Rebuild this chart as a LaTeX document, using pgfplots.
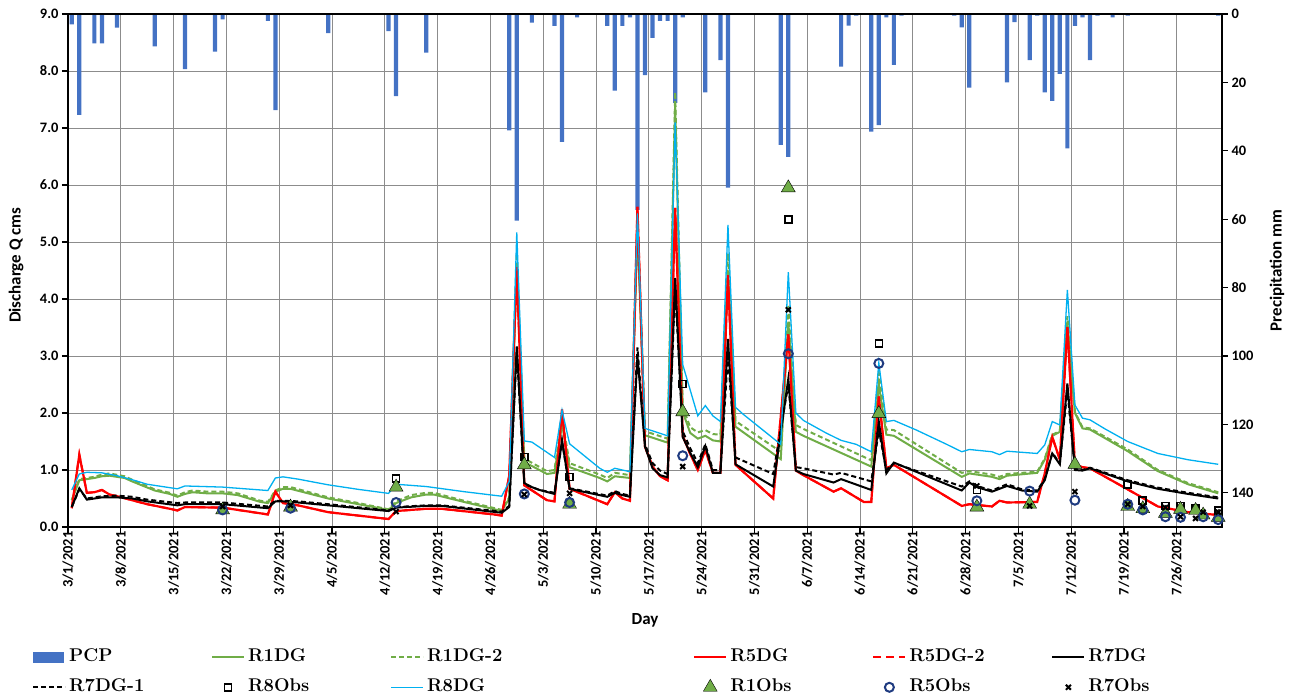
\documentclass[border=0pt]{standalone}
\usepackage{pgfplots}
\usepackage{pgfplotstable}
\pgfplotsset{compat=1.18}
\usepackage{fontspec}
\newfontfamily\carlito{Carlito}
\definecolor{pcp}{HTML}{4472C4}
\definecolor{grn}{HTML}{70AD47}
\definecolor{rd}{HTML}{FF0000}
\definecolor{cyn}{HTML}{00B0F0}
\definecolor{navy}{HTML}{1F3B80}

\pgfplotstableread{
d mm
0 3
1 29.5
3 8.6
4 8.6
6 4.0
11 9.5
15 16.1
19 11.0
20 1.6
26 2.0
27 28.1
34 5.6
42 5.0
43 24.0
47 11.3
58 34.0
59 60.4
61 2.5
64 3.5
65 37.4
67 1.0
71 3.5
72 22.4
73 3.5
74 1.0
75 57.3
76 17.9
77 7.0
78 2.0
79 2.0
80 26
81 1.0
84 22.9
86 13.5
87 50.8
94 38.3
95 41.8
102 15.4
103 3.4
104 0.5
106 34.4
107 32.5
108 1.0
109 14.9
110 0.5
117 0.5
118 3.9
119 21.5
124 20.0
125 2.4
127 13.5
128 0.5
129 22.9
130 25.4
131 17.5
132 39.3
133 3.5
134 1.0
135 13.5
136 0.5
138 1.0
140 0.5
152 0.5
}\pcpdata

\pgfplotstableread{
d q
0 0.47
1 0.82
2 0.84
3 0.86
4 0.89
5 0.90
7 0.86
8 0.80
11 0.64
13 0.58
14 0.53
15 0.58
16 0.61
18 0.59
20 0.59
22 0.56
25 0.44
26 0.42
27 0.62
28 0.67
29 0.67
34 0.50
38 0.40
42 0.30
43 0.42
45 0.52
47 0.57
48 0.57
52 0.44
57 0.28
58 0.50
59 4.6
60 1.14
63 0.93
64 0.95
65 1.8
66 1.05
70 0.86
71 0.80
72 0.89
74 0.86
75 5.2
76 1.61
79 1.48
80 7.4
81 2.02
82 1.65
83 1.55
84 1.60
85 1.52
86 1.50
87 4.5
88 1.76
94 1.19
95 3.6
96 1.67
97 1.60
106 1.06
107 2.5
108 1.62
109 1.60
118 0.88
119 0.94
122 0.88
123 0.84
124 0.90
128 0.95
129 1.18
130 1.60
131 1.67
132 3.6
133 2.0
134 1.73
135 1.71
140 1.33
144 0.98
148 0.75
152 0.59
}\rone

\pgfplotstableread{
d q
0 0.47
1 0.84
2 0.86
3 0.88
4 0.92
5 0.94
7 0.89
8 0.83
11 0.66
13 0.60
14 0.55
15 0.61
16 0.64
18 0.62
20 0.62
22 0.59
25 0.46
26 0.44
27 0.64
28 0.70
29 0.70
34 0.52
38 0.42
42 0.31
43 0.45
45 0.56
47 0.60
48 0.60
52 0.46
57 0.30
58 0.52
59 4.8
60 1.20
63 0.98
64 1.0
65 1.9
66 1.12
70 0.92
71 0.86
72 0.95
74 0.91
75 5.4
76 1.68
79 1.55
80 7.63
81 2.1
82 1.75
83 1.66
84 1.70
85 1.63
86 1.62
87 4.8
88 1.86
94 1.32
95 3.9
96 1.79
97 1.72
106 1.17
107 2.7
108 1.71
109 1.70
118 0.95
119 0.98
122 0.92
123 0.88
124 0.93
128 0.97
129 1.2
130 1.62
131 1.68
132 3.7
133 2.02
134 1.75
135 1.73
140 1.36
144 1.0
148 0.77
152 0.61
}\ronetwo

\pgfplotstableread{
d q
0 0.33
1 1.27
2 0.60
3 0.61
4 0.65
5 0.57
6 0.54
8 0.47
10 0.40
13 0.32
14 0.29
15 0.35
20 0.34
21 0.32
26 0.22
27 0.62
28 0.42
30 0.38
34 0.26
38 0.20
42 0.14
43 0.28
47 0.32
49 0.32
56 0.22
57 0.20
58 0.90
59 4.56
60 0.73
63 0.47
64 0.45
65 2.06
66 0.67
71 0.40
72 0.61
73 0.50
74 0.46
75 5.62
76 1.41
77 1.06
78 0.89
79 0.82
80 5.6
81 1.6
82 1.28
83 1.0
84 1.35
85 0.95
86 0.95
87 4.42
88 1.09
93 0.50
95 3.38
96 0.99
97 0.91
101 0.62
102 0.68
105 0.44
106 0.44
107 2.29
108 1.03
109 1.09
118 0.37
119 0.40
122 0.36
123 0.46
124 0.43
128 0.44
129 0.94
130 1.58
131 1.18
132 3.51
133 1.09
134 1.05
135 1.03
140 0.66
144 0.36
148 0.26
152 0.21
}\rfive

\pgfplotstableread{
d q
0 0.35
1 0.68
2 0.48
3 0.50
4 0.52
6 0.52
8 0.50
10 0.45
14 0.38
15 0.40
20 0.40
26 0.33
27 0.45
28 0.45
30 0.43
34 0.38
42 0.28
43 0.34
47 0.37
49 0.37
57 0.25
58 0.35
59 3.17
60 0.77
61 0.70
62 0.65
64 0.58
65 1.52
66 0.67
71 0.53
72 0.60
73 0.56
74 0.53
75 3.0
76 1.41
77 1.03
78 0.91
79 0.87
80 4.37
81 1.58
82 1.30
83 1.05
84 1.42
85 0.95
86 0.95
87 3.3
88 1.10
93 0.71
95 2.6
96 0.99
97 0.93
101 0.78
102 0.84
106 0.65
107 1.85
108 0.94
109 1.13
118 0.64
119 0.78
120 0.70
122 0.62
124 0.72
126 0.64
128 0.62
129 0.82
130 1.29
131 1.10
132 2.52
133 1.0
134 0.99
135 1.03
140 0.80
144 0.67
148 0.58
152 0.50
}\rseven

\pgfplotstableread{
d q
0 0.35
1 0.66
2 0.50
3 0.52
4 0.54
6 0.55
8 0.53
10 0.48
14 0.42
15 0.43
20 0.43
26 0.36
27 0.46
28 0.46
30 0.45
34 0.40
42 0.29
43 0.35
47 0.38
49 0.38
57 0.27
58 0.37
59 3.1
60 0.75
61 0.70
62 0.65
64 0.60
65 1.5
66 0.68
71 0.55
72 0.63
73 0.58
74 0.55
75 3.15
76 1.45
77 1.12
78 0.99
79 0.93
80 4.2
81 1.68
82 1.38
83 1.12
84 1.45
85 1.0
86 1.0
87 3.0
88 1.22
93 0.93
95 2.5
96 1.05
97 1.03
101 0.92
102 0.95
106 0.80
107 1.7
108 1.0
109 1.12
118 0.71
119 0.80
120 0.72
122 0.64
124 0.75
126 0.66
128 0.64
129 0.84
130 1.30
131 1.12
132 2.4
133 1.02
134 1.0
135 1.04
140 0.82
144 0.69
148 0.60
152 0.52
}\rsevenone

\pgfplotstableread{
d q
0 0.65
1 0.93
2 0.96
4 0.95
6 0.90
8 0.83
10 0.75
13 0.69
14 0.67
15 0.72
20 0.70
26 0.64
27 0.86
28 0.88
30 0.84
34 0.74
38 0.66
42 0.59
43 0.75
47 0.71
52 0.62
57 0.54
58 0.80
59 5.17
60 1.51
61 1.49
64 1.22
65 2.05
66 1.46
70 1.03
71 0.96
72 1.03
74 0.97
75 5.5
76 1.73
79 1.60
80 7.1
81 2.85
82 2.4
83 1.95
84 2.13
85 1.95
86 1.85
87 5.3
88 2.1
89 1.98
94 1.45
95 4.47
96 2.0
97 1.87
100 1.65
102 1.52
104 1.45
106 1.32
107 2.88
108 1.85
109 1.87
112 1.70
116 1.45
118 1.32
119 1.36
122 1.32
123 1.27
124 1.33
128 1.29
129 1.44
130 1.85
131 1.79
132 4.16
133 2.14
134 1.91
135 1.88
137 1.72
140 1.50
144 1.29
148 1.18
152 1.10
}\reight

\pgfplotstableread{
d q
43 0.85
60 1.23
66 0.88
81 2.51
95 5.40
107 3.22
120 0.65
140 0.75
142 0.47
145 0.37
147 0.37
149 0.32
152 0.29
}\oeight

\pgfplotstableread{
d q
20 0.30
29 0.35
43 0.70
60 1.09
66 0.40
81 2.02
95 5.95
107 1.99
120 0.35
127 0.40
133 1.10
140 0.36
142 0.32
145 0.24
147 0.31
149 0.29
150 0.21
152 0.17
}\oone

\pgfplotstableread{
d q
20 0.30
29 0.33
43 0.43
60 0.58
66 0.43
81 1.25
95 3.04
107 2.87
120 0.46
127 0.63
133 0.47
140 0.40
142 0.30
145 0.18
147 0.17
150 0.18
152 0.13
}\ofive

\pgfplotstableread{
d q
20 0.36
29 0.38
43 0.27
60 0.57
66 0.59
81 1.06
95 3.81
107 1.61
120 0.72
127 0.37
133 0.62
140 0.40
142 0.36
145 0.34
147 0.18
149 0.15
150 0.26
152 0.26
}\oseven

\pgfplotsset{
  base/.style={at={(0bp,0bp)},anchor=south west,scale only axis,
    width=1154bp,height=513bp,xmin=-0.5,xmax=152.5},
  tickfont/.style={font=\carlito\bfseries\fontsize{14.5}{16}\selectfont},
}

\begin{document}
\begin{tikzpicture}
\useasboundingbox (-68bp,-170bp) rectangle (1223bp,527bp);

% grid
\begin{axis}[base, ymin=0, ymax=9,
  xtick={-0.5,6.5,13.5,20.5,27.5,34.5,41.5,48.5,55.5,62.5,69.5,76.5,83.5,90.5,97.5,104.5,111.5,118.5,125.5,132.5,139.5,146.5},
  ytick={0,1,...,9}, xticklabels={}, yticklabels={},
  grid=major, grid style={color=black!45, line width=0.9bp},
  axis line style={draw=none}, major tick length=0pt]
\end{axis}

% precipitation
\begin{axis}[base, ymin=0, ymax=150, y dir=reverse,
  axis x line=none, axis y line*=right,
  ytick={0,20,...,140}, yticklabels={0,20,40,60,80,100,120,140},
  tick align=outside, major tick length=6bp,
  axis line style={black, line width=1.4bp},
  tick style={black, line width=1.2bp},
  yticklabel style={tickfont},
  ylabel={Precipitation mm},
  ylabel style={font=\carlito\bfseries\fontsize{17}{20}\selectfont, at={(axis description cs:1.0477,0.5)}, anchor=center, rotate=0}]
\addplot[ybar, bar width=4.2bp, bar shift=0pt, fill=pcp, draw=none] table[x=d,y=mm] {\pcpdata};
\end{axis}

% discharge
\begin{axis}[base, ymin=0, ymax=9,
  xtick pos=left, ytick pos=left,
  xtick={-0.5,6.5,13.5,20.5,27.5,34.5,41.5,48.5,55.5,62.5,69.5,76.5,83.5,90.5,97.5,104.5,111.5,118.5,125.5,132.5,139.5,146.5},
  xticklabels={3/1/2021,3/8/2021,3/15/2021,3/22/2021,3/29/2021,4/5/2021,4/12/2021,4/19/2021,4/26/2021,5/3/2021,5/10/2021,5/17/2021,5/24/2021,5/31/2021,6/7/2021,6/14/2021,6/21/2021,6/28/2021,7/5/2021,7/12/2021,7/19/2021,7/26/2021},
  ytick={0,1,...,9},
  yticklabels={0.0,1.0,2.0,3.0,4.0,5.0,6.0,7.0,8.0,9.0},
  tick align=outside, major tick length=6bp,
  axis line style={black, line width=1.4bp},
  tick style={black, line width=1.2bp},
  yticklabel style={tickfont},
  xticklabel style={tickfont, rotate=90, anchor=east, xshift=5bp},
  ylabel={Discharge Q cms},
  ylabel style={font=\carlito\bfseries\fontsize{17}{20}\selectfont, at={(axis description cs:-0.045,0.51)}, anchor=center},
  xlabel={Day},
  xlabel style={font=\carlito\bfseries\fontsize{17}{20}\selectfont, at={(axis description cs:0.5,-0.181)}, anchor=center},
  legend columns=6,
  legend cell align=left,
  legend image code/.code={\path (0bp,0bp) (32bp,0bp);
    \draw[mark repeat=2,mark phase=2,#1] plot coordinates {(0bp,0bp) (16bp,0bp) (32bp,0bp)};},
  legend style={at={(axis description cs:-0.0312,-0.238)}, anchor=north west,
    draw=none, fill=none, inner sep=0pt,
    font=\bfseries\fontsize{18.5}{21}\selectfont,
    row sep=15bp,
    /tikz/every odd column/.append style={column sep=3bp},
    /tikz/column 6/.append style={column sep=124bp},
    nodes={inner sep=0pt, text height=12bp, text depth=3bp}},
]
\addlegendimage{legend image code/.code={\fill[pcp] (0bp,-5bp) rectangle (30bp,5bp); \path (32bp,0bp);}}
\addlegendentry{\makebox[142bp][l]{PCP}}
\addplot[grn, line width=2bp] table[x=d,y=q] {\rone};
\addlegendentry{\makebox[142bp][l]{R1DG}}
\addplot[grn, line width=2bp, dash pattern=on 5bp off 3bp] table[x=d,y=q] {\ronetwo};
\addlegendentry{\makebox[142bp][l]{R1DG-2}}
\addplot[rd, line width=2.2bp] table[x=d,y=q] {\rfive};
\addlegendentry{\makebox[142bp][l]{R5DG}}
\addplot[rd, line width=2bp, dash pattern=on 8bp off 5bp] table[x=d,y=q] {\rfive};
\addlegendentry{\makebox[142bp][l]{R5DG-2}}
\addplot[black, line width=2bp] table[x=d,y=q] {\rseven};
\addlegendentry{\makebox[142bp][l]{R7DG}}
\addplot[black, line width=2bp, dash pattern=on 5bp off 3bp] table[x=d,y=q] {\rsevenone};
\addlegendentry{\makebox[142bp][l]{R7DG-1}}
\addplot[only marks, mark=square, mark size=3.5bp, mark options={draw=black, fill=white, line width=1.6bp}] table[x=d,y=q] {\oeight};
\addlegendentry{\makebox[142bp][l]{R8Obs}}
\addplot[cyn, line width=1.3bp] table[x=d,y=q] {\reight};
\addlegendentry{\makebox[142bp][l]{R8DG}}
\addplot[only marks, mark=triangle*, mark size=8bp, mark options={fill=grn, draw=none}] table[x=d,y=q] {\oone};
\addlegendentry{\makebox[142bp][l]{R1Obs}}
\addplot[only marks, mark=o, mark size=4.5bp, mark options={draw=navy, line width=2bp}] table[x=d,y=q] {\ofive};
\addlegendentry{\makebox[142bp][l]{R5Obs}}
\addplot[only marks, mark=x, mark size=3.5bp, mark options={draw=black, line width=2bp}] table[x=d,y=q] {\oseven};
\addlegendentry{\makebox[142bp][l]{R7Obs}}
\end{axis}
\end{tikzpicture}
\end{document}
